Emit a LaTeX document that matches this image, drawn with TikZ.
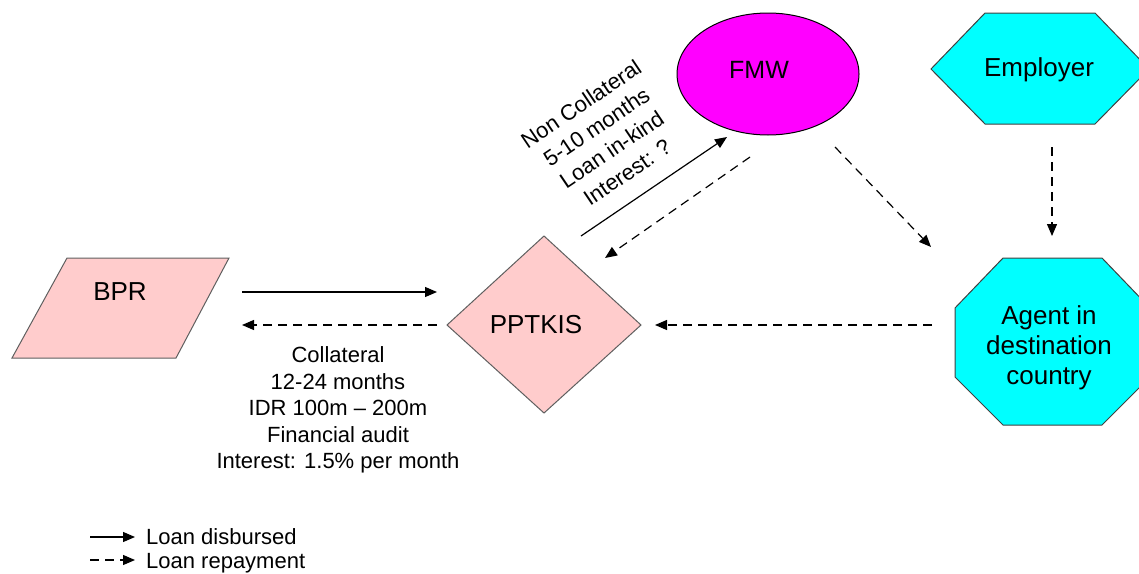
\documentclass[tikz,border=0pt]{standalone}
\usepackage{fontspec}
\setmainfont{Liberation Sans}
\usetikzlibrary{arrows.meta}
\definecolor{bprpink}{RGB}{255,204,204}
\definecolor{fmwmagenta}{RGB}{255,0,255}
\definecolor{agentcyan}{RGB}{0,255,255}
\definecolor{edgegrey}{RGB}{95,95,95}
\begin{document}
\begin{tikzpicture}[x=1pt,y=-1pt,
  txt/.style={font=\fontsize{22}{26.5}\selectfont, align=center, inner sep=0pt},
  shapetxt/.style={txt, font=\fontsize{26}{30}\selectfont},
  given/.style={-{Triangle[length=12pt,width=10pt]}, line width=1.2pt},
  repaid/.style={given, dash pattern=on 9pt off 6pt},
  pinkshape/.style={fill=bprpink, draw=edgegrey, line width=1pt},
  cyanshape/.style={fill=agentcyan, draw=black!75, line width=1pt}]
\useasboundingbox (0,0) rectangle (1139,573);

% BPR (parallelogram)
\draw[pinkshape] (67,258) -- (229,258) -- (176,358) -- (12,358) -- cycle;
\node[shapetxt] (bpr) at (120,292) {BPR};

% PPTKIS (diamond)
\draw[pinkshape] (544,236) -- (641,325) -- (544,413) -- (447,325) -- cycle;
\node[shapetxt] (pptkis) at (536,325) {PPTKIS};

% FMW (ellipse)
\draw[fill=fmwmagenta, draw=black, line width=1pt] (768,74) ellipse [x radius=91, y radius=61];
\node[shapetxt, font=\fontsize{25}{30}\selectfont] (fmw) at (759,70) {FMW};

% Employer (hexagon)
\draw[cyanshape] (931,69) -- (985,13) -- (1095,13) -- (1149,69) -- (1095,124) -- (985,124) -- cycle;
\node[shapetxt] (employer) at (1039,70) {Employer};

% Agent in destination country (octagon)
\draw[cyanshape] (1003,258) -- (1102,258) -- (1150,308) -- (1150,377) -- (1102,425)
  -- (1003,425) -- (955,377) -- (955,308) -- cycle;
\node[shapetxt] (agent) at (1049,348) {Agent in\\destination\\country};

% connector end points
\coordinate (bprA) at (242,292);
\coordinate (pptA) at (437,292);
\coordinate (pptB) at (437,325);
\coordinate (bprB) at (242,325);
\coordinate (agentW) at (932,325);
\coordinate (pptE) at (655,325);
\coordinate (pptN1) at (581,236);
\coordinate (fmwSW1) at (727,137);
\coordinate (fmwSW2) at (750,157);
\coordinate (pptN2) at (605,258);
\coordinate (fmwSE) at (835,147);
\coordinate (agentNW) at (931,247);
\coordinate (empS) at (1052,147);
\coordinate (agentN) at (1052,236);

% flows
\draw[given] (bprA) -- (pptA);
\draw[repaid] (pptB) -- (bprB);
\draw[repaid] (agentW) -- (pptE);
\draw[given] (pptN1) -- (fmwSW1);
\draw[repaid] (fmwSW2) -- (pptN2);
\draw[repaid] (fmwSE) -- (agentNW);
\draw[repaid] (empS) -- (agentN);

% loan terms
\node[txt] (bankterms) at (338,410) {Collateral\\12-24 months\\IDR 100m -- 200m\\Financial audit\\Interest: 1.5\% per month};
\node[txt, font=\fontsize{22}{27.5}\selectfont, rotate=34] (fmwterms) at (604,138) {Non Collateral\\5-10 months\\Loan in-kind\\Interest: ?};

% legend
\coordinate (lgA1) at (90,537);
\coordinate (lgA2) at (135,537);
\coordinate (lgB1) at (90,560);
\coordinate (lgB2) at (135,560);
\draw[given] (lgA1) -- (lgA2);
\draw[repaid] (lgB1) -- (lgB2);
\node[txt, anchor=base west] (lgAtext) at (146,544) {Loan disbursed};
\node[txt, anchor=base west] (lgBtext) at (146,568) {Loan repayment};
\end{tikzpicture}
\end{document}
